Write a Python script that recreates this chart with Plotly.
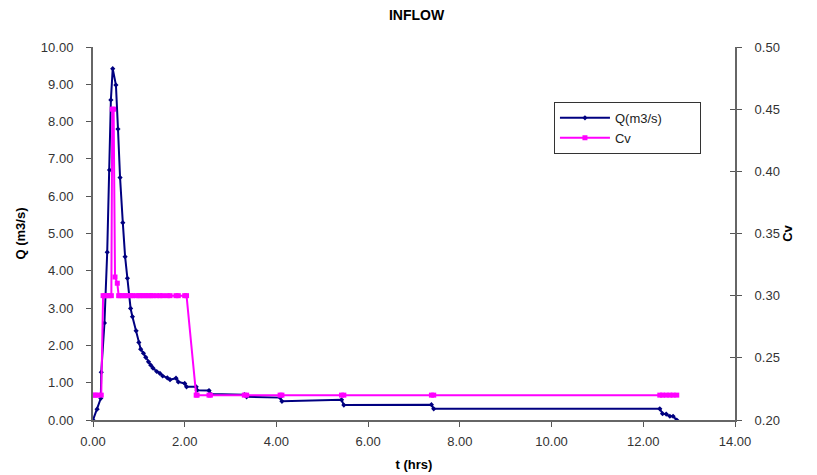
import plotly.graph_objects as go

# Q(m3/s) series
t_q = [0.00, 0.09, 0.17, 0.18, 0.25, 0.31, 0.36, 0.39, 0.43, 0.50, 0.545, 0.59, 0.65,
       0.70, 0.75, 0.82, 0.86, 0.94, 1.00, 1.04, 1.10, 1.15, 1.21, 1.26, 1.31, 1.39,
       1.46, 1.52, 1.62, 1.68, 1.81, 1.86, 2.00, 2.04, 2.25, 2.27, 2.53, 2.56, 3.30,
       3.35, 4.08, 4.12, 5.42, 5.47, 7.38, 7.43, 12.36, 12.42, 12.50, 12.58, 12.65, 12.73]
q = [0.00, 0.29, 0.58, 1.28, 2.60, 4.50, 6.70, 8.58, 9.42, 8.98, 7.80, 6.50, 5.29,
     4.38, 3.80, 2.99, 2.77, 2.39, 2.08, 1.90, 1.79, 1.68, 1.56, 1.47, 1.39, 1.30,
     1.25, 1.18, 1.13, 1.08, 1.12, 1.02, 0.98, 0.89, 0.89, 0.80, 0.79, 0.70, 0.68,
     0.62, 0.60, 0.50, 0.54, 0.40, 0.41, 0.30, 0.30, 0.17, 0.16, 0.10, 0.10, 0.00]

# Cv series
t_cv = [0.00, 0.05, 0.10, 0.18, 0.22, 0.26, 0.30, 0.35, 0.40, 0.42, 0.45, 0.48, 0.53,
        0.56, 0.59, 0.65, 0.70, 0.75, 0.82, 0.86, 0.94, 1.00, 1.04, 1.10, 1.15, 1.21,
        1.26, 1.31, 1.39, 1.46, 1.52, 1.62, 1.68, 1.81, 1.86, 2.00, 2.04, 2.25, 2.27,
        2.53, 2.56, 3.30, 3.35, 4.08, 4.12, 5.42, 5.47, 7.38, 7.43, 12.36, 12.42, 12.50,
        12.58, 12.65, 12.73]
cv = [0.22, 0.22, 0.22, 0.22, 0.30, 0.30, 0.30, 0.30, 0.30, 0.45, 0.45, 0.315, 0.31,
      0.30, 0.30, 0.30, 0.30, 0.30, 0.30, 0.30, 0.30, 0.30, 0.30, 0.30, 0.30, 0.30,
      0.30, 0.30, 0.30, 0.30, 0.30, 0.30, 0.30, 0.30, 0.30, 0.30, 0.30, 0.22, 0.22,
      0.22, 0.22, 0.22, 0.22, 0.22, 0.22, 0.22, 0.22, 0.22, 0.22, 0.22, 0.22, 0.22,
      0.22, 0.22, 0.22]

FONT = "Liberation Sans, Arial, sans-serif"
PAD = "\u00a0" * 9

fig = go.Figure()
fig.add_trace(go.Scatter(
    x=t_q, y=q, name="Q(m3/s)" + PAD, mode="lines+markers", legendgroup="a",
    line=dict(color="#000080", width=2),
    marker=dict(symbol="diamond", size=4, color="#000080"),
))
fig.add_trace(go.Scatter(
    x=t_cv, y=cv, name="Cv", mode="lines+markers", yaxis="y2", legendgroup="b",
    line=dict(color="#FF00FF", width=2),
    marker=dict(symbol="square", size=5, color="#FF00FF"),
))

tick_font = dict(family=FONT, size=13, color="#333333")
title_font = dict(family=FONT, size=13, color="black")
axis_common = dict(
    showgrid=False, zeroline=False, showline=True, linecolor="#666666", linewidth=2,
    ticks="outside", ticklen=5, tickcolor="#555555", tickwidth=1,
    tickfont=tick_font,
)

fig.update_layout(
    width=817, height=475,
    paper_bgcolor="white", plot_bgcolor="white",
    margin=dict(l=85, r=90, t=39, b=63),
    title=dict(text="<b>INFLOW</b>", x=0.5, xanchor="center", y=0.985, yanchor="middle",
               font=dict(family=FONT, size=14, color="black")),
    xaxis=dict(range=[0, 14], dtick=2, tickformat=".2f", ticklabelstandoff=3,
               title=dict(text="<b>t (hrs)</b>", font=title_font, standoff=12),
               **axis_common),
    yaxis=dict(range=[0, 10], dtick=1, tickformat=".2f", ticklabelstandoff=10,
               title=dict(text="<b>Q (m3/s)</b>", font=title_font, standoff=12),
               **axis_common),
    yaxis2=dict(range=[0.2, 0.5], dtick=0.05, tickformat=".2f", overlaying="y", side="right",
                ticklabelstandoff=10,
                title=dict(text="<b>Cv</b>", font=title_font, standoff=4),
                **axis_common),
    yaxis3=dict(range=[0.2, 0.5], dtick=0.05, overlaying="y", side="right",
                showgrid=False, zeroline=False, showline=False, showticklabels=False,
                ticks="inside", ticklen=5, tickcolor="#555555", tickwidth=1),
    showlegend=True,
    legend=dict(x=0.718, y=0.853, xanchor="left", yanchor="top",
                bordercolor="#333333", borderwidth=1, bgcolor="white",
                font=dict(family=FONT, size=13, color="#222222"),
                itemwidth=50, tracegroupgap=0),
)
# invisible trace to activate the inner-tick right axis
fig.add_trace(go.Scatter(x=[None], y=[None], yaxis="y3", showlegend=False, hoverinfo="skip"))

fig.write_html("out.html")
